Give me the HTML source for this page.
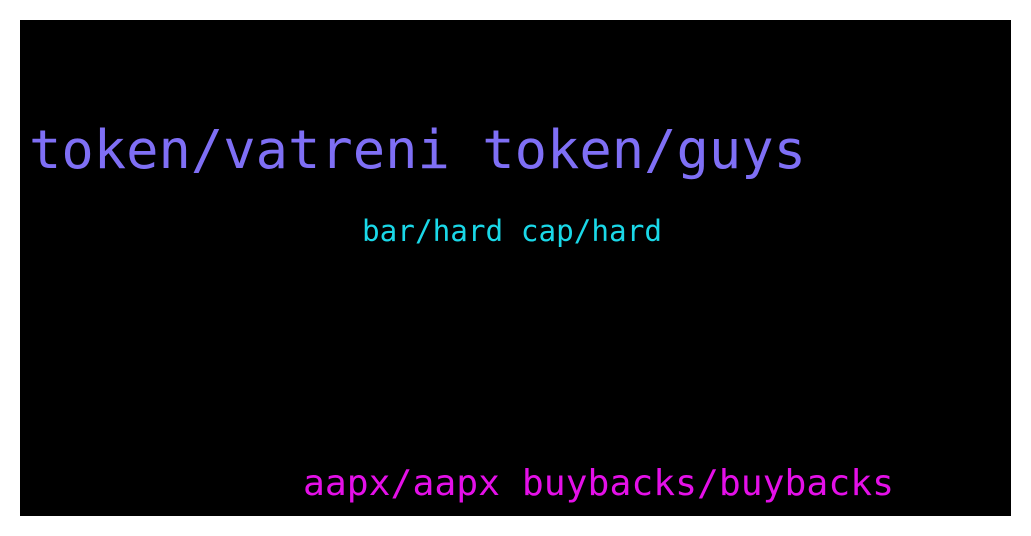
<!DOCTYPE html>
<html><head><style>html,body{margin:0;padding:0;background:#fff;width:1031px;height:536px;overflow:hidden}</style></head>
<body>
<svg width="1031" height="536" xmlns="http://www.w3.org/2000/svg">
<rect x="0" y="0" width="1031" height="536" fill="#fff"/>
<rect x="20" y="20" width="991" height="496" fill="#000"/>
<g font-family="DejaVu Sans Mono, Liberation Mono, monospace">
<text x="29" y="168" font-size="53.7" fill="#7f6ff5" textLength="777" lengthAdjust="spacingAndGlyphs">token/vatreni token/guys</text>
<text x="362" y="241" font-size="29" fill="#1ad8e8" textLength="300" lengthAdjust="spacingAndGlyphs">bar/hard cap/hard</text>
<text x="303" y="495" font-size="36" fill="#e410e8" textLength="591" lengthAdjust="spacingAndGlyphs">aapx/aapx buybacks/buybacks</text>
</g>
</svg>
</body></html>
